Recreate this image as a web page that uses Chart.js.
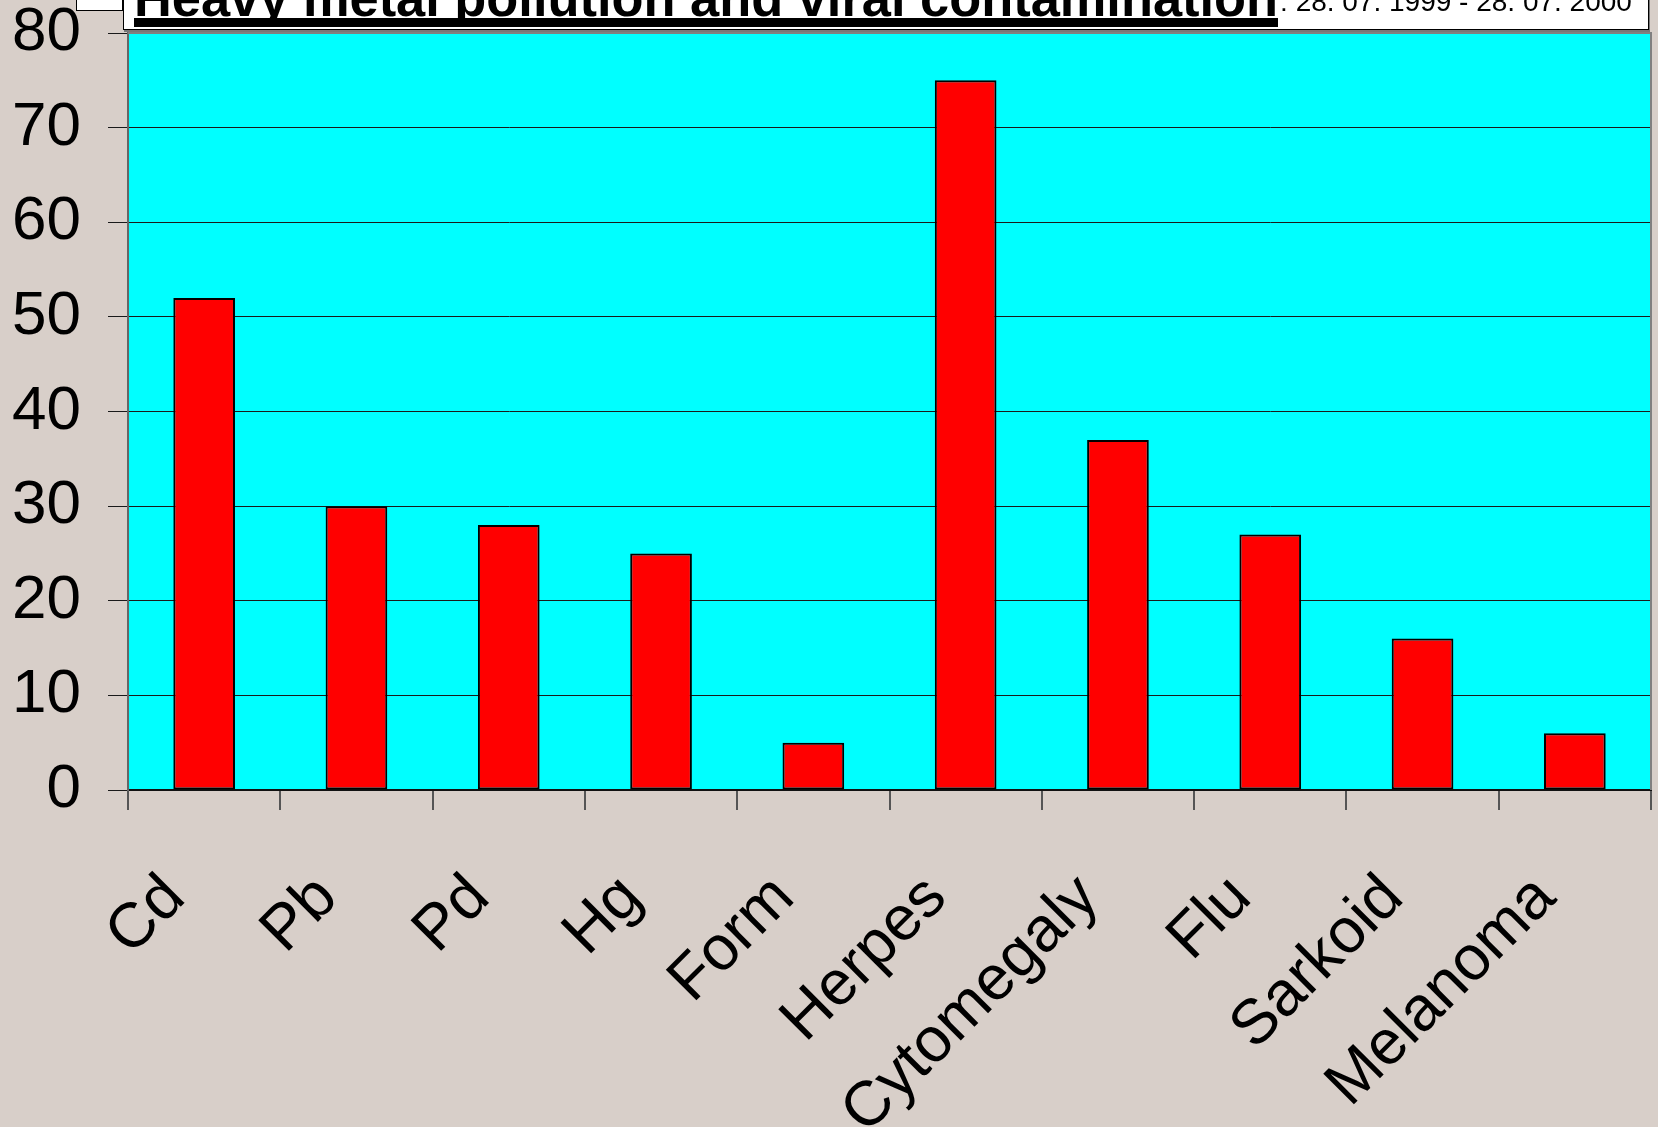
<!DOCTYPE html>
<html>
<head>
<meta charset="utf-8">
<script src="https://cdn.jsdelivr.net/npm/chart.js@4"></script>
<style>
  body { margin: 0; background: #D8CFC9; }
  #wrap { position: relative; width: 1658px; height: 1127px; overflow: hidden; background: #D8CFC9; }
  #c { position: absolute; left: 0; top: 0; }
  #boxSmall { position: absolute; left: 76px; top: -4px; width: 45px; height: 13px; background: #fff; border: 1px solid #000; }
  #titleBox { position: absolute; left: 123px; top: -19px; width: 1524px; height: 47px; background: #fff;
              border: 1.5px solid #000; box-shadow: 1px 2px 0 #777; }
  #title { position: absolute; left: 134px; top: -28px; font: bold 52.4px/52px "Liberation Sans", Arial, sans-serif;
           color: #000; white-space: nowrap; }
  #underline { position: absolute; left: 134px; top: 18px; height: 9px; background: #000; }
  #subtitle { position: absolute; top: -12px; font: 28px/28px "Liberation Sans", Arial, sans-serif;
              color: #000; white-space: nowrap; }
</style>
</head>
<body>
<div id="wrap">
  <canvas id="c" width="1658" height="1127"></canvas>
  <div id="boxSmall"></div>
  <div id="titleBox"></div>
  <div id="title">Heavy metal pollution and viral contamination</div>
  <div id="underline"></div>
  <div id="subtitle">: 28. 07. 1999 - 28. 07. 2000</div>
</div>
<script>
// values
var categories = ['Cd', 'Pb', 'Pd', 'Hg', 'Form', 'Herpes', 'Cytomegaly', 'Flu', 'Sarkoid', 'Melanoma'];
var cases = [52, 30, 28, 25, 5, 75, 37, 27, 16, 6];
var yTicks = [0, 10, 20, 30, 40, 50, 60, 70, 80];

// title pieces: underline follows title width, subtitle sits right after it
var titleEl = document.getElementById('title');
var w = titleEl.getBoundingClientRect().width;
document.getElementById('underline').style.width = w + 'px';
document.getElementById('subtitle').style.left = (134 + w + 2) + 'px';

// cyan plot area + grey frame on top/right
var plotBg = {
    id: 'plotBg',
    beforeDraw: function (chart) {
        var ctx = chart.ctx, a = chart.chartArea;
        ctx.save();
        ctx.fillStyle = '#00FFFF';
        ctx.fillRect(a.left, a.top, a.right - a.left, a.bottom - a.top);
        ctx.restore();
    },
    beforeDatasetsDraw: function (chart) {
        var ctx = chart.ctx, a = chart.chartArea;
        ctx.save();
        ctx.strokeStyle = '#808080';
        ctx.lineWidth = 2;
        ctx.beginPath();
        ctx.moveTo(a.left, a.top);
        ctx.lineTo(a.right, a.top);
        ctx.lineTo(a.right, a.bottom);
        ctx.stroke();
        ctx.restore();
    }
};

var ctx = document.getElementById('c').getContext('2d');
var myChart = new Chart(ctx, {
    type: 'bar',
    data: {
        labels: categories,
        datasets: [{
            data: cases,
            backgroundColor: '#FF0000',
            borderColor: '#000000',
            borderWidth: 2,
            borderSkipped: false,
            barPercentage: 0.405,
            categoryPercentage: 1.0
        }]
    },
    options: {
        responsive: false,
        devicePixelRatio: 1,
        animation: false,
        layout: { padding: { top: 33, right: 7, left: 0, bottom: 0 } },
        plugins: {
            legend: { display: false },
            tooltip: { enabled: false }
        },
        scales: {
            x: {
                afterFit: function (scale) {
                    scale.height = 337;
                    scale.paddingLeft = 0;
                    scale.paddingRight = 0;
                },
                grid: {
                    offset: true,
                    drawOnChartArea: false,
                    drawTicks: true,
                    tickLength: 20,
                    color: '#555555',
                    lineWidth: 2
                },
                border: { color: '#111111', width: 2 },
                ticks: {
                    minRotation: 45,
                    maxRotation: 45,
                    autoSkip: false,
                    padding: 51,
                    labelOffset: -29,
                    color: '#000000',
                    font: { family: '"Liberation Sans", Arial, sans-serif', size: 63 }
                }
            },
            y: {
                min: 0,
                max: 80,
                afterFit: function (scale) {
                    scale.width = 128;
                    scale.paddingTop = 0;
                    scale.paddingBottom = 0;
                },
                afterBuildTicks: function (scale) {
                    scale.ticks = yTicks.map(function (v) { return { value: v }; });
                },
                grid: {
                    color: '#1a1a1a',
                    lineWidth: 1,
                    tickLength: 20
                },
                border: { color: '#666666', width: 2 },
                ticks: {
                    padding: 27,
                    color: '#000000',
                    font: { family: '"Liberation Sans", Arial, sans-serif', size: 62 }
                }
            }
        }
    },
    plugins: [plotBg]
});
</script>
</body>
</html>
